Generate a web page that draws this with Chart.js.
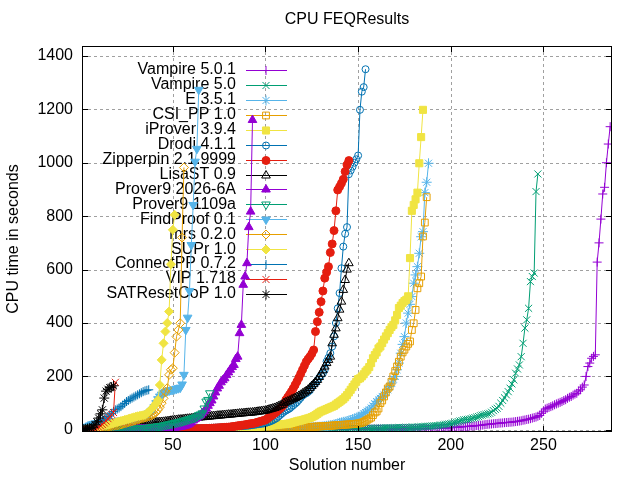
<!DOCTYPE html>
<html>
<head>
<meta charset="utf-8">
<script src="https://cdn.jsdelivr.net/npm/chart.js@4.4.1/dist/chart.umd.min.js"></script>
<style>
html,body{margin:0;padding:0;background:#fff;}
canvas{display:block;}
</style>
</head>
<body>
<canvas id="c" width="640" height="480"></canvas>
<script>
// ---------- data ----------
const seriesNames = ["Vampire 5.0.1","Vampire 5.0","E 3.5.1","CSI_PP 1.0","iProver 3.9.4","Drodi 4.1.1","Zipperpin 2.1.9999","LisaST 0.9","Prover9 2026-6A","Prover9 1109a","FindProof 0.1","mrs 0.2.0","SUPr 1.0","ConnectPP 0.7.2","VIP 1.718","SATResetCoP 1.0"];
const xTicks = [50,100,150,200,250];
const yTicks = [0,200,400,600,800,1000,1200,1400];

const vampire501 = [
0.1,0.1,0.1,0.1,0.1,0.1,0.1,0.1,0.1,0.1,
0.1,0.1,0.1,0.1,0.1,0.2,0.2,0.2,0.2,0.2,
0.2,0.2,0.2,0.2,0.2,0.2,0.2,0.2,0.2,0.2,
0.3,0.3,0.3,0.3,0.3,0.3,0.3,0.3,0.3,0.3,
0.3,0.3,0.3,0.3,0.4,0.4,0.4,0.4,0.4,0.4,
0.4,0.4,0.4,0.5,0.5,0.5,0.5,0.5,0.5,0.5,
0.5,0.5,0.6,0.6,0.6,0.6,0.6,0.6,0.6,0.7,
0.7,0.7,0.7,0.7,0.7,0.8,0.8,0.8,0.8,0.8,
0.8,0.9,0.9,0.9,0.9,0.9,1.0,1.0,1.0,1.0,
1.0,1.0,1.1,1.1,1.1,1.1,1.1,1.2,1.2,1.2,
1.2,1.2,1.3,1.3,1.3,1.3,1.3,1.4,1.4,1.4,
1.4,1.4,1.5,1.5,1.5,1.5,1.5,1.6,1.6,1.6,
1.6,1.6,1.7,1.7,1.7,1.7,1.8,1.8,1.8,1.8,
1.8,1.9,1.9,1.9,1.9,2.0,2.0,2.0,2.0,2.1,
2.1,2.1,2.1,2.2,2.2,2.2,2.3,2.3,2.3,2.4,
2.4,2.4,2.5,2.5,2.6,2.6,2.7,2.7,2.8,2.8,
2.9,2.9,3.0,3.0,3.1,3.1,3.2,3.2,3.3,3.3,
3.4,3.4,3.5,3.6,3.6,3.7,3.8,3.8,3.9,4.0,
4.0,4.1,4.2,4.3,4.4,4.5,4.6,4.7,4.8,5.0,
5.1,5.3,5.5,5.8,6.0,6.4,6.8,7.2,7.6,8.0,
8.5,9.0,9.5,10,11,11.5,12,12.5,13,13.5,
14,14.5,15,16,16.5,17,18,19,20,21,
21.5,22,23,23.5,24,25,25.5,26,27,27.5,
28,28.5,29,30,31,32,33,34,36,37,
39,40,42,44,46,48,51,54,62,70,
78,81,84,87,90,94,97,100,103,106,
110,113,118,122,125,130,134,137,145,150,
160,168,200,237,250,268,275,281,628,700,
789,883,908,1000,1070,1135];

const vampire50 = [
0.1,0.1,0.1,0.1,0.1,0.1,0.1,0.1,0.1,0.1,
0.1,0.1,0.1,0.1,0.1,0.1,0.2,0.2,0.2,0.2,
0.2,0.2,0.2,0.2,0.2,0.2,0.2,0.2,0.2,0.2,
0.2,0.2,0.3,0.3,0.3,0.3,0.3,0.3,0.3,0.3,
0.3,0.4,0.4,0.4,0.4,0.4,0.4,0.4,0.5,0.5,
0.5,0.5,0.5,0.5,0.6,0.6,0.6,0.6,0.6,0.7,
0.7,0.7,0.7,0.8,0.8,0.8,0.8,0.9,0.9,0.9,
0.9,1.0,1.0,1.0,1.0,1.1,1.1,1.1,1.2,1.2,
1.2,1.3,1.3,1.3,1.4,1.4,1.4,1.5,1.5,1.5,
1.6,1.6,1.6,1.7,1.7,1.8,1.8,1.8,1.9,1.9,
2.0,2.0,2.1,2.1,2.2,2.2,2.3,2.3,2.4,2.4,
2.5,2.5,2.6,2.6,2.7,2.7,2.8,2.8,2.9,2.9,
3.0,3.0,3.1,3.1,3.2,3.3,3.3,3.4,3.4,3.5,
3.6,3.6,3.7,3.8,3.8,3.9,4.0,4.0,4.1,4.2,
4.3,4.3,4.4,4.5,4.6,4.7,4.8,4.9,5.0,5.1,
5.2,5.3,5.4,5.5,5.6,5.8,5.9,6.0,6.2,6.3,
6.5,6.6,6.8,7.0,7.1,7.3,7.5,7.7,7.9,8.0,
8.1,8.3,8.5,8.7,8.9,9.1,9.3,9.5,9.7,9.9,
10,10.5,11,11.5,12,12.5,13,13.5,14,14.5,
15,15.5,16,17,18,19,20,21,22,23,
25,27,29,31,33,35,37,38,39,40,
42,44,46,48,50,53,55,57,58,60,
62,66,72,77,81,88,100,110,120,131,
143,156,172,187,212,228,243,274,324,381,
412,455,555,574,587,892,958];

const e351 = [
0.1,0.1,0.1,0.1,0.1,0.1,0.1,0.1,0.1,0.1,
0.1,0.1,0.1,0.1,0.2,0.2,0.2,0.2,0.2,0.2,
0.2,0.3,0.3,0.3,0.3,0.3,0.4,0.4,0.4,0.4,
0.5,0.5,0.5,0.6,0.6,0.6,0.7,0.7,0.7,0.8,
0.8,0.8,0.9,0.9,1.0,1.0,1.0,1.1,1.1,1.2,
1.2,1.3,1.3,1.4,1.4,1.5,1.5,1.6,1.6,1.7,
1.7,1.8,1.9,1.9,2.0,2.1,2.1,2.2,2.3,2.3,
2.4,2.5,2.5,2.6,2.7,2.8,2.8,2.9,3.0,3.1,
3.2,3.3,3.4,3.5,3.6,3.7,3.8,3.9,4.0,4.1,
4.2,4.3,4.4,4.5,4.6,4.7,4.8,4.9,5.0,5.1,
5.2,5.4,5.6,5.8,6.0,6.2,6.4,6.6,6.8,7.0,
7.2,7.4,7.6,7.8,8.0,8.2,8.4,8.6,8.8,9.0,
9.2,9.5,9.8,10,10.3,10.6,11,11.3,11.6,12,
13,14,15,16,17,18,20,22,24,26,
28,30,31,33,35,37,40,42,45,48,
50,55,60,65,70,75,82,90,98,106,
112,118,125,131,140,150,162,175,190,200,
225,250,287,320,349,400,437,470,499,549,
580,611,661,723,742,888,927,998];

const csipp = [
0.1,0.1,0.1,0.1,0.1,0.1,0.1,0.1,0.1,0.1,
0.1,0.1,0.2,0.2,0.2,0.2,0.2,0.2,0.3,0.3,
0.3,0.3,0.3,0.4,0.4,0.4,0.4,0.5,0.5,0.5,
0.6,0.6,0.6,0.7,0.7,0.8,0.8,0.8,0.9,0.9,
1.0,1.0,1.1,1.1,1.2,1.2,1.3,1.3,1.4,1.4,
1.5,1.5,1.6,1.7,1.7,1.8,1.9,1.9,2.0,2.1,
2.1,2.2,2.3,2.4,2.4,2.5,2.6,2.7,2.8,2.9,
3.0,3.0,3.1,3.2,3.3,3.4,3.5,3.6,3.7,3.8,
3.9,4.0,4.1,4.2,4.3,4.4,4.5,4.6,4.7,4.8,
4.9,5.0,5.1,5.2,5.3,5.4,5.5,5.6,5.7,5.8,
6,6.2,6.4,6.6,6.8,7,7.2,7.4,7.6,7.8,
8,8.2,8.4,8.6,8.8,9,9.2,9.4,9.6,9.8,
10,10.3,10.6,11,11.3,11.6,12,12.4,12.8,13.2,
13.6,14,14.5,15,15.5,16,16.5,17,17.5,18,
18.5,19,19.5,20,20.5,21,21.5,22,23,24,
25,27,30,34,38,42,46,55,65,69,
80,100,110,125,140,155,162,180,200,220,
237,255,274,290,300,312,322,331,374,399,
449,530,549,574,724,776,871];

const iprover = [
0.1,0.1,0.1,0.1,0.1,0.2,0.2,0.2,0.2,0.2,
0.3,0.3,0.3,0.4,0.4,0.4,0.5,0.5,0.5,0.6,
0.6,0.7,0.7,0.8,0.8,0.9,0.9,1.0,1.0,1.1,
1.1,1.2,1.3,1.3,1.4,1.5,1.5,1.6,1.7,1.7,
1.8,1.9,2.0,2.0,2.1,2.2,2.3,2.4,2.5,2.6,
2.7,2.8,2.9,3.0,3.1,3.2,3.3,3.4,3.5,3.6,
3.7,3.8,3.9,4.0,4.2,4.3,4.5,4.6,4.8,5.0,
5.1,5.3,5.5,5.7,5.9,6.1,6.3,6.5,6.7,7.0,
7.2,7.5,7.7,8.0,8.2,8.5,8.8,9.0,9.3,9.6,
10,10.5,11,11.5,12,12.5,13,13.5,14,14.5,
14,15,16,17,18,19,20,20.5,21,21.5,
22,23,24,26,28,30,32,34,35,37,
39,41,43,45,48,51,55,60,65,69,
72,75,78,81,84,87,90,95,100,105,
110,115,122,130,140,150,160,170,180,190,
193,200,208,218,225,235,250,268,280,290,
305,312,325,338,350,362,374,385,393,410,
430,456,465,475,482,487,500,643,820,842,
863,888,998,1096,1198];

const drodi = [
0.1,0.1,0.1,0.2,0.2,0.2,0.3,0.3,0.3,0.4,
0.4,0.5,0.5,0.6,0.6,0.7,0.7,0.8,0.8,0.9,
1.0,1.0,1.1,1.2,1.2,1.3,1.4,1.4,1.5,1.6,
1.7,1.8,1.9,2.0,2.1,2.2,2.3,2.4,2.5,2.6,
2.7,2.8,2.9,3.0,3.1,3.2,3.4,3.5,3.6,3.8,
3.9,4.0,4.2,4.3,4.5,4.6,4.8,5.0,5.1,5.3,
5.5,5.7,5.9,6.1,6.3,6.5,6.7,7.0,7.2,7.5,
7.8,8.1,8.4,8.7,9,9.3,9.6,10,10.4,10.8,
11.2,11.6,12,12.5,13,13.5,14,14.5,15,15.5,
16,17,18,19,20,21,22,23,24,26,
28,30,33,36,40,44,50,56,62,68,
72,76,80,86,92,98,104,112,120,128,
134,137,142,148,160,170,175,185,195,205,
212,225,256,270,287,312,350,400,455,512,
605,686,734,759,957,971,985,1000,1013,1027,
1198,1266,1283,1350];

const zipperpin = [
0.1,0.1,0.1,0.1,0.1,0.2,0.2,0.2,0.2,0.2,
0.3,0.3,0.3,0.3,0.4,0.4,0.4,0.4,0.5,0.5,
0.5,0.6,0.6,0.6,0.7,0.7,0.8,0.8,0.8,0.9,
0.9,1.0,1.0,1.1,1.1,1.2,1.2,1.3,1.3,1.4,
1.5,1.5,1.6,1.7,1.7,1.8,1.9,2.0,2.1,2.2,
2.3,2.4,2.5,2.6,2.8,2.9,3.0,3.2,3.3,3.5,
3.7,3.9,4.1,4.3,4.5,4.8,5.0,5.3,5.6,5.9,
6.2,6.6,7.0,7.4,7.8,8.2,8.7,9.2,9.7,10.2,
11,12,13,14,15,16,17,18,19,20.5,
22,23,24,25,27,29,31,33,35,37,
42,47,52,57,62,68,74,80,87,95,
112,122,132,143,155,168,181,195,210,225,
240,255,265,274,285,299,368,405,440,480,
520,568,590,611,664,696,746,820,898,910,
923,938,967,992,1008];

const lisast = [
1,2,3,4,5,6,7,8,9,10,
11,12,13,14,15,15.5,16,16.5,17,17.5,
18,18.5,19,19.5,20,20.5,21,21.5,22,22.5,
23,23.5,24,24.5,25,25.5,26,26.5,27,27.5,
28,28.5,29,29.5,30,31,32,33,34,35,
36,37,38,38.5,39,40,41,41.5,42,43,
44,45,45.5,46,47,47.5,48,49,49.5,50,
51,51.5,52,53,53.5,54,55,55.5,56,57,
57,58,59,59.5,60,61,61.5,62,63,63.5,
64,64.5,65,66,67,68,69,70,71,72,
74,76,78,80,82,85,88,91,94,
100,103,106,109,113,116,119,123,127,131,
136,140,145,150,157,164,171,179,187,198,
210,223,237,250,262,274,324,356,380,418,
450,480,524,561,600,624];

const prover9a = [
0.1,0.1,0.1,0.1,0.1,0.2,0.2,0.2,0.2,0.2,
0.2,0.3,0.3,0.3,0.4,0.4,0.5,0.5,0.6,0.6,
0.7,0.8,0.8,0.9,1.0,1.1,1.2,1.3,1.4,1.5,
1.6,1.8,2.0,2.2,2.4,2.6,2.8,3.0,3.3,3.6,
3.9,4.2,4.5,4.9,5.3,5.7,6.1,6.6,7.1,7.6,
8,9,10,11,12.5,14,16,19,23,28,
35,40,45,50,56,62,70,80,90,100,
110,125,140,155,165,178,186,193,205,215,
225,235,243,265,274,362,393,543,574,624,
759,817,1160];

const prover9b = [
0.1,0.1,0.2,0.2,0.3,0.3,0.4,0.4,0.5,0.5,
0.6,0.7,0.8,0.9,1.0,1.1,1.2,1.3,1.5,1.7,
1.9,2.1,2.3,2.5,2.8,3.1,3.4,3.7,4.0,4.4,
4.8,5.2,5.7,6.2,6.8,7.4,8,9,10,11,
12,13,14,15,16.5,18,19.5,21,22.5,24,
25.5,27,28.5,30,32,34,36,38,40,42,
44,46,50,55,58,62,80,106,112,137];

const findproof = [
3,5,8,12,16,20,22,24,25,26,
27,28,29,30,31,31,32,32,33,33,
34,35,35,36,37,38,39,40,41,42,
44,46,48,50,53,57,62,68,75,85,
100,115,125,132,138,142,145,147,149,150,
152,154,156,158,170,206,374,420,520,692,
842,1004,1052,1273];

const mrs = [
0.5,1,1.5,2,2.5,3,4,5,6,7,
8,9,10,11,12,13,14,15,16,17,
18,20,22,24,26,28,30,32,34,36,
38,40,42,44,46,48,50,53,56,60,
66,75,85,100,118,143,156,206,225,231,
289,349,374,399,720,982];

const supr = [
1,1,2,2,3,4,5,6,8,10,
12,14,16,18,19,21,23,25,27,29,
31,33,35,37,39,41,43,45,47,49,
51,52,54,55,56,62,68,75,81,90,
100,112,168,262,324,368,400,443,620,749,
805];

const connectpp = [
2,4,6,8,10,12,15,18,22,26,
30,35,40,45,50,56,62,69,75,78,
82,87,93,99,106,110,115,119,123,127,
131,135,139,143,146,148,150];

const vip = [1,1,2,2,3,3,4,5,7,10,15,20,26,33,42,50,58,65,178];

const satresetcop = [1,2,3,4,5,7,10,19,30,44,60,75,119,145,152,158,160,165];

const seriesValues = [vampire501, vampire50, e351, csipp, iprover, drodi, zipperpin, lisast,
  prover9a, prover9b, findproof, mrs, supr, connectpp, vip, satresetcop];

// ---------- styles ----------
const palette = ["#9400d3","#009e73","#56b4e9","#e69f00","#f0e442","#0072b2","#e51e10","#000000"];
const markStyle = ["cross","crossRot","star","rect","rect","circle","circle","triangle","triangle","triangle","triangle","rectRot","rectRot","cross","crossRot","star"];
const markFilled = [true,true,true,false,true,false,true,false,true,false,true,false,true,true,true,true];
const markRot = [0,0,0,0,0,0,0,0,0,180,180,0,0,0,0,0];
const markRadius = [4.5,5,5,4.8,5,3.5,4,5,5,5,5,4.5,4.5,4.5,5,5];

const FONT = '"Liberation Sans", Arial, sans-serif';
const PLOT = {left:82, right:612, top:46, bottom:432};

const datasets = seriesValues.map((vals, i) => {
  const col = palette[i % 8];
  return {
    label: seriesNames[i],
    data: vals.map((v, k) => ({x: k + 1, y: v})),
    borderColor: col,
    backgroundColor: markFilled[i] ? col : 'rgba(0,0,0,0)',
    pointBackgroundColor: markFilled[i] ? col : 'rgba(0,0,0,0)',
    pointBorderColor: col,
    borderWidth: 1,
    pointBorderWidth: 1,
    pointStyle: markStyle[i],
    pointRotation: markRot[i],
    pointRadius: markRadius[i],
    pointHoverRadius: markRadius[i],
    tension: 0,
    fill: false,
    order: seriesValues.length - i
  };
});

const decorPlugin = {
  id: 'decor',
  beforeDatasetsDraw(chart) {
    const ctx = chart.ctx;
    const xs = chart.scales.x, ys = chart.scales.y;
    const a = chart.chartArea;
    ctx.save();
    // grid
    ctx.strokeStyle = '#a0a0a0';
    ctx.lineWidth = 1;
    ctx.setLineDash([3, 3]);
    xTicks.forEach(v => {
      const px = Math.round(xs.getPixelForValue(v)) + 0.5;
      ctx.beginPath(); ctx.moveTo(px, a.top); ctx.lineTo(px, a.bottom); ctx.stroke();
    });
    yTicks.forEach(v => {
      const py = Math.round(ys.getPixelForValue(v)) + 0.5;
      ctx.beginPath(); ctx.moveTo(a.left, py); ctx.lineTo(a.right, py); ctx.stroke();
    });
    ctx.setLineDash([]);
    // legend
    ctx.font = '16px ' + FONT;
    ctx.textAlign = 'right';
    ctx.textBaseline = 'middle';
    seriesNames.forEach((name, i) => {
      const y = 70 + i * 14.93;
      ctx.fillStyle = '#000';
      ctx.fillText(name, 236, y);
      const col = palette[i % 8];
      ctx.strokeStyle = col;
      ctx.lineWidth = 1;
      ctx.beginPath(); ctx.moveTo(246, Math.round(y) + 0.5); ctx.lineTo(287, Math.round(y) + 0.5); ctx.stroke();
      ctx.fillStyle = markFilled[i] ? col : 'rgba(0,0,0,0)';
      ctx.strokeStyle = col;
      Chart.helpers.drawPoint(ctx, {pointStyle: markStyle[i], rotation: markRot[i], radius: markRadius[i], borderWidth: 1}, 266, Math.round(y) + 0.5);
    });
    ctx.restore();
  },
  afterDatasetsDraw(chart) {
    const ctx = chart.ctx;
    const xs = chart.scales.x, ys = chart.scales.y;
    const a = chart.chartArea;
    ctx.save();
    ctx.strokeStyle = '#000';
    ctx.lineWidth = 1;
    ctx.strokeRect(a.left + 0.5, a.top + 0.5, a.right - a.left - 1, a.bottom - a.top - 1);
    const tl = 6;
    ctx.beginPath();
    xTicks.forEach(v => {
      const px = Math.round(xs.getPixelForValue(v)) + 0.5;
      ctx.moveTo(px, a.bottom); ctx.lineTo(px, a.bottom - tl);
      ctx.moveTo(px, a.top); ctx.lineTo(px, a.top + tl);
    });
    yTicks.forEach(v => {
      const py = Math.round(ys.getPixelForValue(v)) + 0.5;
      ctx.moveTo(a.left, py); ctx.lineTo(a.left + tl, py);
      ctx.moveTo(a.right, py); ctx.lineTo(a.right - tl, py);
    });
    ctx.stroke();
    // titles
    ctx.fillStyle = '#000';
    ctx.font = '16px ' + FONT;
    ctx.textAlign = 'center';
    ctx.textBaseline = 'middle';
    ctx.fillText('CPU FEQResults', 347, 20);
    ctx.fillText('Solution number', 347, 466);
    ctx.translate(14, 239);
    ctx.rotate(-Math.PI / 2);
    ctx.fillText('CPU time in seconds', 0, 0);
    ctx.restore();
  }
};

new Chart(document.getElementById('c'), {
  type: 'line',
  data: {datasets},
  options: {
    responsive: false,
    animation: false,
    devicePixelRatio: 1,
    layout: {padding: {left: 0, right: 640 - PLOT.right, top: PLOT.top, bottom: 0}},
    plugins: {legend: {display: false}, title: {display: false}, tooltip: {enabled: false}},
    events: [],
    scales: {
      x: {
        type: 'linear', min: 1, max: 287,
        afterBuildTicks: s => { s.ticks = xTicks.map(v => ({value: v})); },
        afterFit: s => { s.height = 480 - PLOT.bottom; },
        grid: {display: false, drawTicks: false},
        border: {display: false},
        ticks: {color: '#000', font: {family: FONT, size: 16}, padding: 4, maxRotation: 0, autoSkip: false,
                callback: v => String(v)}
      },
      y: {
        type: 'linear', min: -8, max: 1437,
        afterBuildTicks: s => { s.ticks = yTicks.map(v => ({value: v})); },
        afterFit: s => { s.width = PLOT.left; },
        grid: {display: false, drawTicks: false},
        border: {display: false},
        ticks: {color: '#000', font: {family: FONT, size: 16}, padding: 9, autoSkip: false,
                callback: v => String(v)}
      }
    }
  },
  plugins: [decorPlugin]
});
</script>
</body>
</html>
